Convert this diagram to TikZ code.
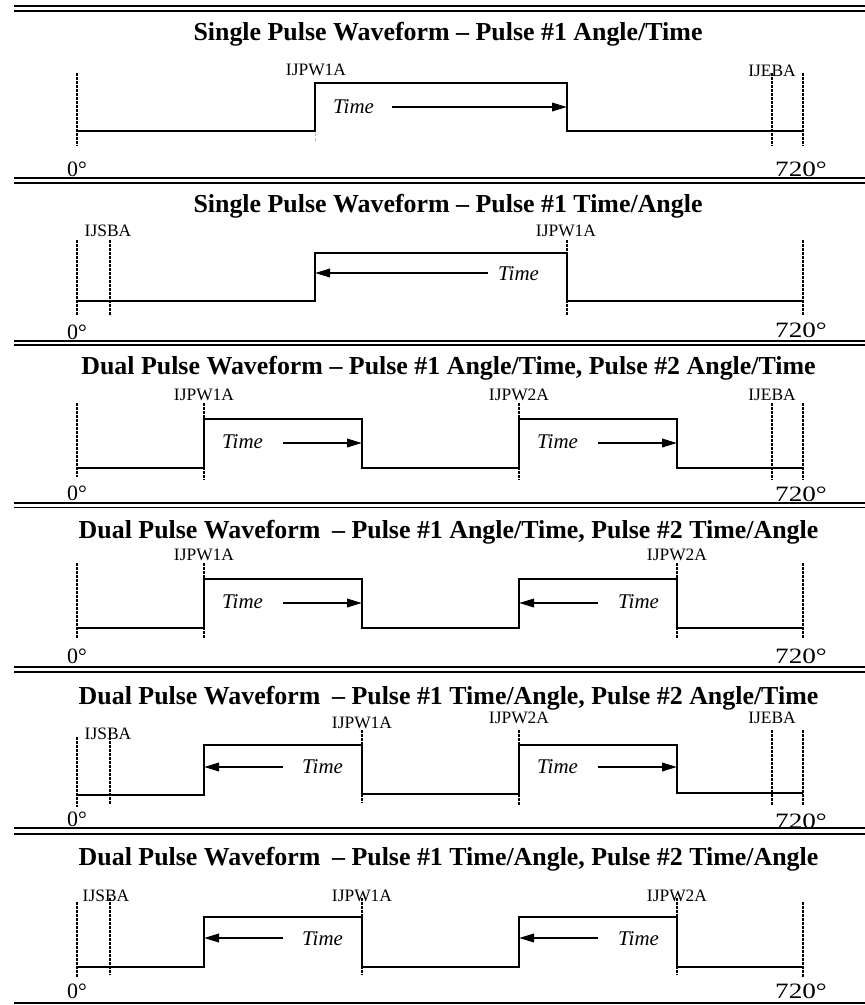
\documentclass[tikz,border=0pt]{standalone}
\usepackage{fontspec}
\setmainfont{Liberation Serif}
\usetikzlibrary{arrows.meta}
\tikzset{
  septhick/.style={line width=2.2bp},
  septhin/.style={line width=1.6bp},
  wave/.style={line width=2.2bp, line join=miter},
  vmark/.style={line width=1.3bp, dash pattern=on 2.5bp off 1.5bp},
  faint/.style={line width=0.7bp, gray!55, dash pattern=on 3bp off 2bp},
  arr/.style={line width=2bp, -{Triangle[length=15bp,width=8.5bp]}},
  ttl/.style={font=\fontsize{26}{28}\selectfont\bfseries, inner sep=0pt, anchor=base},
  lbl/.style={font=\fontsize{17.5}{19}\selectfont, inner sep=0pt, anchor=base},
  tm/.style={font=\fontsize{21}{23}\selectfont\itshape, inner sep=0pt, anchor=base west},
  deg/.style={font=\fontsize{22}{24}\selectfont, inner sep=0pt, anchor=base west},
}
\newcommand{\wideang}{\scalebox{1.24}[1]{720°}}
\begin{document}
\begin{tikzpicture}[x=1bp, y=-1bp]
\useasboundingbox (0,0) rectangle (865,1005);
% separators
\foreach \ya/\yb in {6/11, 178/183, 341/345, 503/507.5, 667/672, 828/834}{
  \draw[septhick] (14,\ya) -- (865,\ya);
  \draw[septhin] (14,\yb) -- (865,\yb);
}
\draw[septhick] (14,1003) -- (865,1003);

% ---------------- Panel 1
\node[ttl] (t1) at (448,40) {Single Pulse Waveform – Pulse \#1 Angle/Time};
\node[lbl] (p1w1) at (316,75) {IJPW1A};
\node[lbl] (p1eb) at (772,76) {IJEBA};
\foreach \x in {77,772,803} \draw[vmark] (\x,73) -- (\x,146);
\draw[faint] (315,83) -- (315,143);
\draw[wave] (77,130.7) -- (315,130.7) -- (315,83) -- (567,83) -- (567,130.7) -- (803,130.7);
\node[tm] (p1tm) at (333,113) {Time};
\coordinate (p1as) at (392,107); \coordinate (p1ae) at (567,107);
\draw[arr] (p1as) -- (p1ae);
\node[deg] (p1z) at (67,176) {0°};
\node[deg] (p1e) at (775,176) {\wideang};

% ---------------- Panel 2
\node[ttl] (t2) at (448,212) {Single Pulse Waveform – Pulse \#1 Time/Angle};
\node[lbl] (p2sb) at (108,236) {IJSBA};
\node[lbl] (p2w1) at (566,236) {IJPW1A};
\foreach \x in {77,110,567,803} \draw[vmark] (\x,240) -- (\x,315);
\draw[wave] (77,301) -- (315,301) -- (315,253) -- (567,253) -- (567,301) -- (803,301);
\node[tm] (p2tm) at (498,280) {Time};
\coordinate (p2as) at (488,273); \coordinate (p2ae) at (315,273);
\draw[arr] (p2as) -- (p2ae);
\node[deg] (p2z) at (67,339) {0°};
\node[deg] (p2e) at (775,337) {\wideang};

% ---------------- Panel 3
\node[ttl] (t3) at (448.5,374) {Dual Pulse Waveform – Pulse \#1 Angle/Time, Pulse \#2 Angle/Time};
\node[lbl] (p3w1) at (204,400) {IJPW1A};
\node[lbl] (p3w2) at (519,400) {IJPW2A};
\node[lbl] (p3eb) at (772,400) {IJEBA};
\draw[vmark] (77,403) -- (77,477);
\foreach \x in {204,519,772,803} \draw[vmark] (\x,403) -- (\x,480);
\draw[wave] (77,468) -- (204,468) -- (204,419) -- (362,419) -- (362,468) -- (519,468) -- (519,419) -- (677,419) -- (677,468) -- (803,468);
\node[tm] (p3tm1) at (222,448) {Time};
\coordinate (p3as) at (283,443); \coordinate (p3ae) at (362,443);
\draw[arr] (p3as) -- (p3ae);
\node[tm] (p3tm2) at (537,448) {Time};
\coordinate (p3bs) at (598,443); \coordinate (p3be) at (677,443);
\draw[arr] (p3bs) -- (p3be);
\node[deg] (p3z) at (67,500) {0°};
\node[deg] (p3e) at (775,501) {\wideang};

% ---------------- Panel 4
\node[ttl] (t4) at (448.5,538) {Dual Pulse Waveform \hspace{0.2em}– Pulse \#1 Angle/Time, Pulse \#2 Time/Angle};
\node[lbl] (p4w1) at (204,560) {IJPW1A};
\node[lbl] (p4w2) at (677,560) {IJPW2A};
\foreach \x in {77,204,677,803} \draw[vmark] (\x,563) -- (\x,639);
\draw[wave] (77,628) -- (204,628) -- (204,579) -- (362,579) -- (362,628) -- (519,628) -- (519,579) -- (677,579) -- (677,628) -- (803,628);
\node[tm] (p4tm1) at (222,608) {Time};
\coordinate (p4as) at (283,603); \coordinate (p4ae) at (362,603);
\draw[arr] (p4as) -- (p4ae);
\node[tm] (p4tm2) at (618,608) {Time};
\coordinate (p4bs) at (598,603); \coordinate (p4be) at (519,603);
\draw[arr] (p4bs) -- (p4be);
\node[deg] (p4z) at (67,663) {0°};
\node[deg] (p4e) at (775,663) {\wideang};

% ---------------- Panel 5
\node[ttl] (t5) at (448.5,704) {Dual Pulse Waveform \hspace{0.2em}– Pulse \#1 Time/Angle, Pulse \#2 Angle/Time};
\node[lbl] (p5sb) at (108,739) {IJSBA};
\node[lbl] (p5w1) at (362,728) {IJPW1A};
\node[lbl] (p5w2) at (519,723) {IJPW2A};
\node[lbl] (p5eb) at (772,723) {IJEBA};
\draw[vmark] (77,737) -- (77,807);
\draw[vmark] (110,729) -- (110,805);
\draw[vmark] (362,730) -- (362,803);
\foreach \x in {519,772,803} \draw[vmark] (\x,730) -- (\x,806);
\draw[wave] (77,795) -- (204,795) -- (204,745) -- (362,745) -- (362,794) -- (519,794) -- (519,745) -- (677,745) -- (677,793) -- (803,793);
\node[tm] (p5tm1) at (302,773) {Time};
\coordinate (p5as) at (283,767); \coordinate (p5ae) at (204,767);
\draw[arr] (p5as) -- (p5ae);
\node[tm] (p5tm2) at (537,773) {Time};
\coordinate (p5bs) at (598,767); \coordinate (p5be) at (677,767);
\draw[arr] (p5bs) -- (p5be);
\node[deg] (p5z) at (67,826) {0°};
\node[deg] (p5e) at (775,828) {\wideang};

% ---------------- Panel 6
\node[ttl] (t6) at (448.5,865) {Dual Pulse Waveform \hspace{0.2em}– Pulse \#1 Time/Angle, Pulse \#2 Time/Angle};
\node[lbl] (p6sb) at (106,901) {IJSBA};
\node[lbl] (p6w1) at (362,901) {IJPW1A};
\node[lbl] (p6w2) at (677,901) {IJPW2A};
\draw[vmark] (77,902) -- (77,977);
\foreach \x in {110,362,677} \draw[vmark] (\x,898) -- (\x,975);
\draw[vmark] (803,902) -- (803,977);
\draw[wave] (77,967) -- (204,967) -- (204,917) -- (362,917) -- (362,967) -- (519,967) -- (519,917) -- (677,917) -- (677,967) -- (803,967);
\node[tm] (p6tm1) at (302,945) {Time};
\coordinate (p6as) at (283,938); \coordinate (p6ae) at (204,938);
\draw[arr] (p6as) -- (p6ae);
\node[tm] (p6tm2) at (618,945) {Time};
\coordinate (p6bs) at (598,938); \coordinate (p6be) at (519,938);
\draw[arr] (p6bs) -- (p6be);
\node[deg] (p6z) at (67,998) {0°};
\node[deg] (p6e) at (775,998) {\wideang};
\end{tikzpicture}
\end{document}
